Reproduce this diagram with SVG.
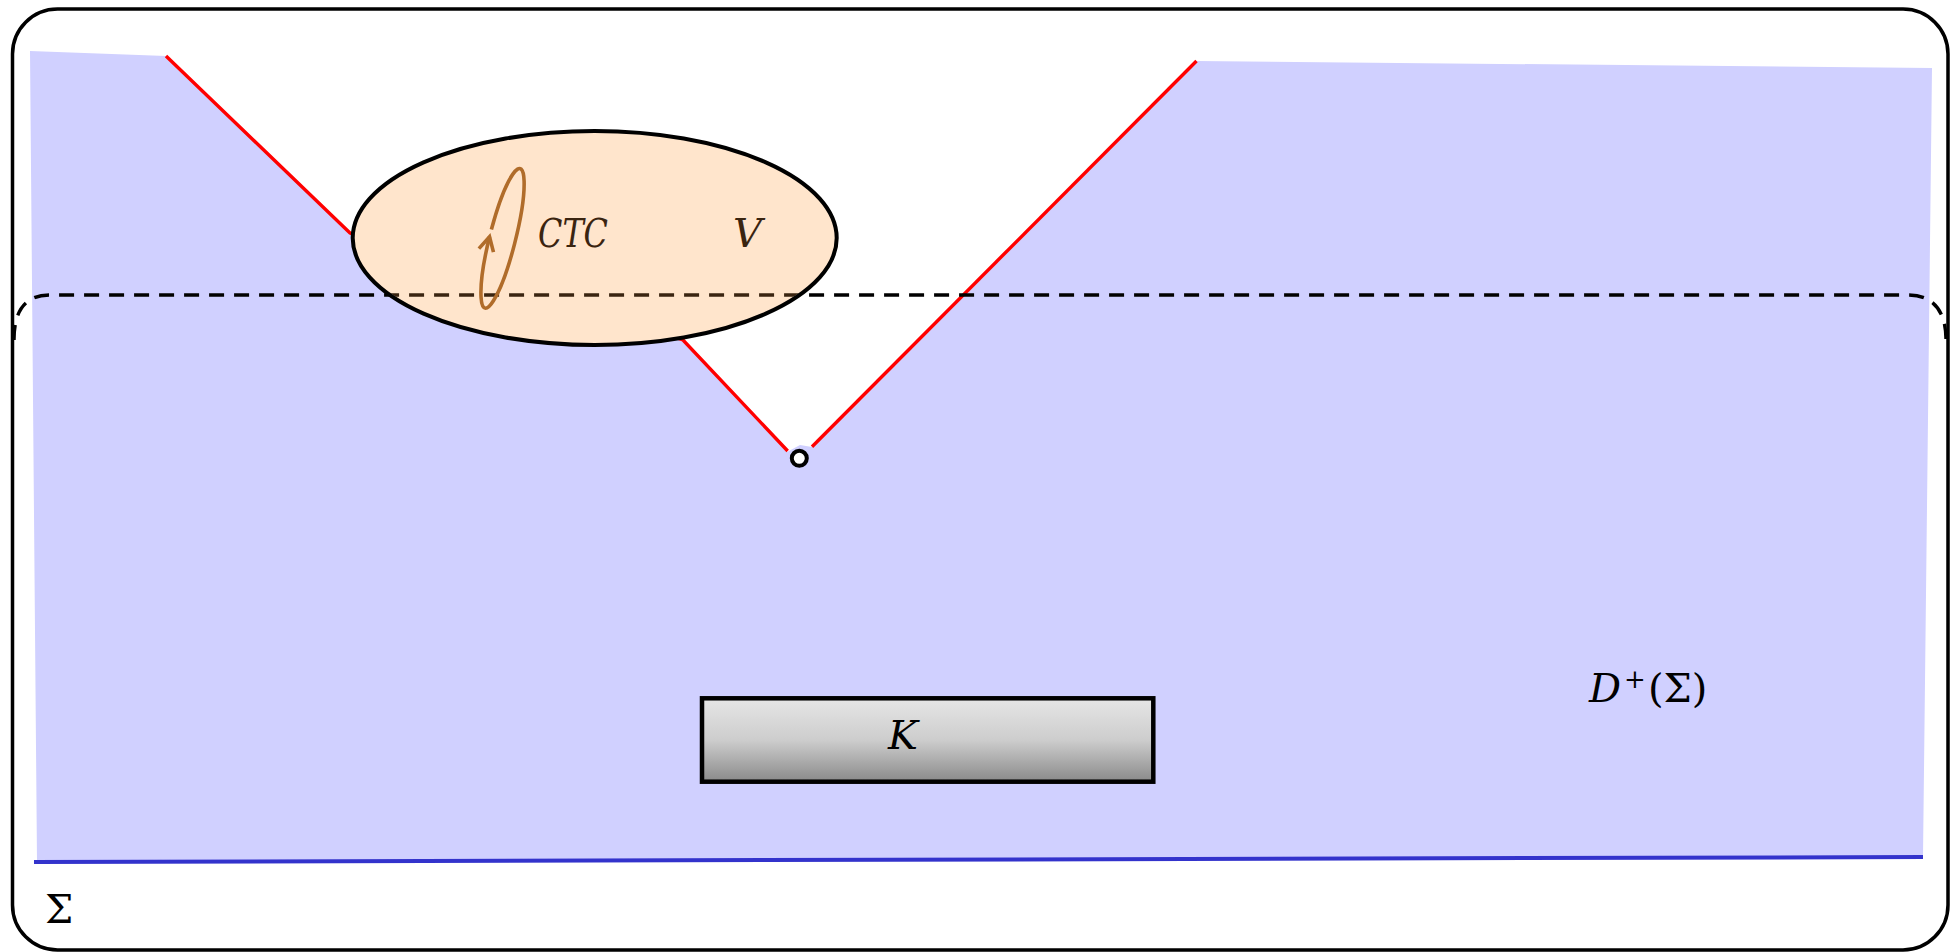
<svg xmlns="http://www.w3.org/2000/svg" width="1959" height="952" viewBox="0 0 1959 952">
  <style>
    .math { font-family: "DejaVu Serif", "Liberation Serif", serif; font-size: 40px; font-style: italic; fill: #000; }
    .up { font-style: normal; }
    .red { stroke: #ff0000; stroke-width: 3.4; fill: none; }
    .frame { fill: none; stroke: #000; stroke-width: 3.5; }
  </style>
  <defs>
    <linearGradient id="kgrad" x1="0" y1="0" x2="0" y2="1">
      <stop offset="0" stop-color="#e6e6e6"/>
      <stop offset="0.5" stop-color="#cdcdcd"/>
      <stop offset="1" stop-color="#8a8a8a"/>
    </linearGradient>
    <marker id="loopArrow" markerUnits="userSpaceOnUse" markerWidth="30" markerHeight="30" refX="0" refY="0" orient="auto" viewBox="-20 -15 30 30" overflow="visible">
      <path d="M -14 -7.5 L 0 0 L -14 7.5" fill="none" stroke="#b06c2a" stroke-width="3.6" stroke-linejoin="miter"/>
    </marker>
    <clipPath id="ellClip">
      <ellipse cx="594.7" cy="238" rx="240" ry="105"/>
    </clipPath>
  </defs>

  <rect x="0" y="0" width="1959" height="952" fill="#ffffff"/>

  <g id="frame">
    <rect class="frame" x="12.5" y="9" width="1935.5" height="941" rx="45" ry="45"/>
  </g>

  <g id="future-domain">
    <polygon fill="#d0d0ff" points="30,51 166,56 350,233 683,340 787,452 800,445 812,447 1196,61 1932,68 1923,857 37,862"/>
  </g>

  <g id="connectors">
    <polyline class="red" points="166,56 350,233 683,340 787.7,451"/>
    <line class="red" x1="812" y1="446.7" x2="1196.5" y2="61"/>
    <line x1="34" y1="862" x2="1923" y2="857" stroke="#3333cc" stroke-width="4"/>
    <path d="M 14 340 C 14 312, 24 295, 50 295 L 1908 295 C 1934 295, 1946 312, 1946 340" fill="none" stroke="#000" stroke-width="3.4" stroke-dasharray="15 10"/>
  </g>

  <g id="node-V">
    <ellipse cx="594.7" cy="238" rx="242" ry="107" fill="#ffe5cc" stroke="none"/>
    <path d="M 14 340 C 14 312, 24 295, 50 295 L 1908 295 C 1934 295, 1946 312, 1946 340" fill="none" stroke="#3a2410" stroke-width="3.4" stroke-dasharray="15 10" clip-path="url(#ellClip)"/>
    <ellipse cx="594.7" cy="238" rx="242" ry="107" fill="none" stroke="#000" stroke-width="4"/>
    <text class="math" x="538" y="247" textLength="70" lengthAdjust="spacingAndGlyphs" style="fill:#3a2410">CTC</text>
    <text class="math" x="733" y="247" style="fill:#3a2410">V</text>
  </g>

  <g id="node-CTC-loop" transform="translate(502.5,238.5) rotate(14.1)">
    <path d="M -12.95 -6 A 13 72 0 1 1 -12.99 1.5" fill="none" stroke="#b06c2a" stroke-width="3.6" marker-end="url(#loopArrow)"/>
  </g>

  <g id="node-vertex">
    <circle cx="799.3" cy="458.3" r="7.5" fill="#ffffff" stroke="#000" stroke-width="4"/>
  </g>

  <g id="node-K">
    <rect x="702" y="698.3" width="451.3" height="83.4" fill="url(#kgrad)" stroke="#000" stroke-width="4.5"/>
    <text class="math" x="888" y="749">K</text>
  </g>

  <g id="label-D">
    <text class="math" x="1589" y="702">D<tspan class="up" font-size="26" dx="3" dy="-14">+</tspan><tspan class="up" font-size="40" dx="2" dy="14">(Σ)</tspan></text>
  </g>

  <g id="label-Sigma">
    <text class="math up" x="45" y="923">Σ</text>
  </g>
</svg>
